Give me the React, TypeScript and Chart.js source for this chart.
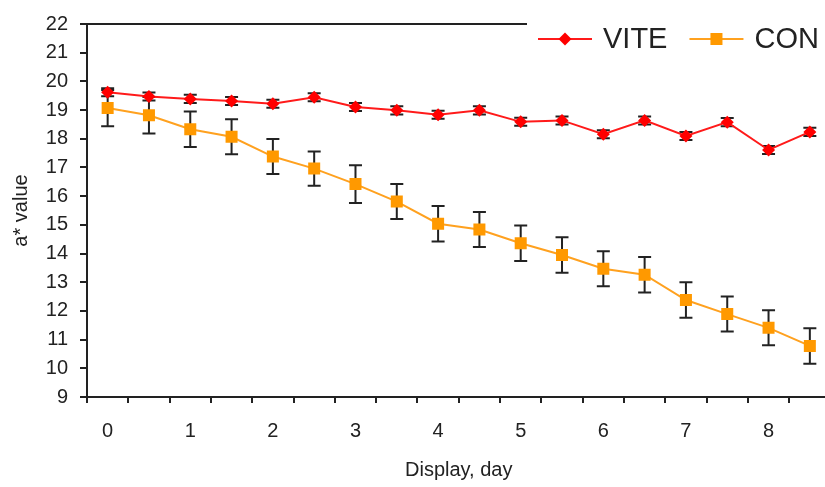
import React, { useEffect, useRef } from 'react';
import { Chart, registerables } from 'chart.js';

Chart.register(...registerables);

const days = [0, 0.5, 1, 1.5, 2, 2.5, 3, 3.5, 4, 4.5, 5, 5.5, 6, 6.5, 7, 7.5, 8, 8.5];
const viteValues = [19.62, 19.47, 19.39, 19.32, 19.22, 19.45, 19.11, 18.99, 18.84, 18.99, 18.59, 18.64, 18.16, 18.64, 18.1, 18.58, 17.61, 18.24];
const viteErrors = [0.14, 0.14, 0.14, 0.14, 0.14, 0.14, 0.14, 0.14, 0.14, 0.14, 0.14, 0.14, 0.14, 0.14, 0.14, 0.14, 0.14, 0.14];
const conValues = [19.07, 18.82, 18.33, 18.07, 17.38, 16.96, 16.42, 15.81, 15.04, 14.84, 14.36, 13.95, 13.47, 13.26, 12.38, 11.89, 11.41, 10.78];
const conErrors = [0.63, 0.64, 0.62, 0.61, 0.61, 0.6, 0.66, 0.61, 0.62, 0.61, 0.62, 0.62, 0.61, 0.62, 0.62, 0.61, 0.61, 0.62];
const seriesLabels = ['VITE', 'CON'];
const yMin = 9;
const yMax = 22;
const xTitle = 'Display, day';
const yTitle = 'a* value';

const FONT = "'Liberation Sans', Arial, sans-serif";
const INK = '#222222';

const errorBarPlugin = {
  id: 'errorBars',
  beforeDatasetsDraw(chart: any) {
    const ctx = chart.ctx;
    const yScale = chart.scales.y;
    ctx.save();
    ctx.strokeStyle = INK;
    ctx.lineWidth = 2;
    chart.data.datasets.forEach((ds: any, i: number) => {
      const meta = chart.getDatasetMeta(i);
      const errs: number[] = ds.errors || [];
      meta.data.forEach((pt: any, j: number) => {
        const v = ds.data[j];
        const e = errs[j] || 0;
        const yTop = yScale.getPixelForValue(v + e);
        const yBot = yScale.getPixelForValue(v - e);
        const x = pt.x;
        ctx.beginPath();
        ctx.moveTo(x, yTop);
        ctx.lineTo(x, yBot);
        ctx.moveTo(x - 6.5, yTop);
        ctx.lineTo(x + 6.5, yTop);
        ctx.moveTo(x - 6.5, yBot);
        ctx.lineTo(x + 6.5, yBot);
        ctx.stroke();
      });
    });
    ctx.restore();
  },
};

function drawMarker(ctx: CanvasRenderingContext2D, style: string, x: number, y: number, r: number, color: string) {
  ctx.fillStyle = color;
  ctx.beginPath();
  if (style === 'rectRot') {
    ctx.moveTo(x, y - r);
    ctx.lineTo(x + r, y);
    ctx.lineTo(x, y + r);
    ctx.lineTo(x - r, y);
    ctx.closePath();
  } else {
    const s = r * Math.SQRT1_2;
    ctx.rect(x - s, y - s, 2 * s, 2 * s);
  }
  ctx.fill();
}

const legendPlugin = {
  id: 'customLegend',
  afterDraw(chart: any) {
    const ctx = chart.ctx;
    const { left, right, top } = chart.chartArea;
    ctx.save();
    ctx.strokeStyle = INK;
    ctx.lineWidth = 2;
    ctx.beginPath();
    ctx.moveTo(left, top);
    ctx.lineTo(right, top);
    ctx.stroke();
    const boxX = 527;
    ctx.fillStyle = '#ffffff';
    ctx.fillRect(boxX, 0, chart.width - boxX, 62);
    ctx.font = `29px ${FONT}`;
    ctx.textBaseline = 'middle';
    ctx.textAlign = 'left';
    let x = 538;
    const y = 39;
    chart.data.datasets.forEach((ds: any) => {
      ctx.strokeStyle = ds.borderColor;
      ctx.lineWidth = 2;
      ctx.beginPath();
      ctx.moveTo(x, y);
      ctx.lineTo(x + 54, y);
      ctx.stroke();
      drawMarker(ctx, ds.pointStyle, x + 27, y, ds.pointRadius, ds.pointBackgroundColor);
      ctx.fillStyle = INK;
      ctx.fillText(ds.label, x + 65, y + 1);
      const w = ctx.measureText(ds.label).width;
      x = x + 65 + w + 22;
    });
    ctx.restore();
  },
};

export default function App() {
  const ref = useRef<HTMLCanvasElement | null>(null);

  useEffect(() => {
    if (!ref.current) return;
    const chart = new Chart(ref.current, {
      type: 'line',
      data: {
        labels: days.map((d) => String(d)),
        datasets: [
          {
            label: seriesLabels[0],
            data: viteValues,
            errors: viteErrors,
            borderColor: '#ff1a1a',
            borderWidth: 2,
            pointStyle: 'rectRot',
            pointRadius: 6.5,
            pointBackgroundColor: '#ff0000',
            pointBorderWidth: 0,
            pointBorderColor: '#ff0000',
            tension: 0,
          } as any,
          {
            label: seriesLabels[1],
            data: conValues,
            errors: conErrors,
            borderColor: '#ffa11f',
            borderWidth: 2,
            pointStyle: 'rect',
            pointRadius: 8.5,
            pointBackgroundColor: '#ff9900',
            pointBorderWidth: 0,
            pointBorderColor: '#ff9900',
            tension: 0,
          } as any,
        ],
      },
      options: {
        responsive: false,
        animation: false,
        layout: { padding: { top: 18, right: 2, left: 0, bottom: 0 } },
        plugins: {
          legend: { display: false },
          tooltip: { enabled: false },
        },
        scales: {
          x: {
            type: 'category',
            offset: true,
            grid: {
              offset: true,
              drawOnChartArea: false,
              drawTicks: true,
              tickLength: 6,
              color: INK,
              lineWidth: 2,
            },
            border: { display: true, color: INK, width: 2 },
            ticks: {
              autoSkip: false,
              maxRotation: 0,
              minRotation: 0,
              padding: 16,
              color: INK,
              font: { family: FONT, size: 20 },
              callback: (_v: any, i: number) => (Number.isInteger(days[i]) ? String(days[i]) : ''),
            },
            title: {
              display: true,
              text: xTitle,
              color: INK,
              font: { family: FONT, size: 20 },
              padding: { top: 0, bottom: 5 },
            },
            afterFit: (scale: any) => {
              scale.height = 90;
            },
          },
          y: {
            min: yMin,
            max: yMax,
            ticks: {
              stepSize: 1,
              padding: 12,
              color: INK,
              font: { family: FONT, size: 20 },
            },
            grid: {
              drawOnChartArea: false,
              drawTicks: true,
              tickLength: 7,
              color: INK,
              lineWidth: 2,
            },
            border: { display: true, color: INK, width: 2 },
            title: {
              display: true,
              text: yTitle,
              color: INK,
              font: { family: FONT, size: 20 },
              padding: { top: 9, bottom: 0 },
            },
            afterFit: (scale: any) => {
              scale.width = 87;
            },
          },
        },
      } as any,
      plugins: [errorBarPlugin, legendPlugin],
    });
    return () => chart.destroy();
  }, []);

  return (
    <div style={{ position: 'fixed', left: 0, top: 0, width: 825, height: 487, overflow: 'hidden', background: '#ffffff' }}>
      <canvas ref={ref} width={839} height={487} style={{ display: 'block' }} />
    </div>
  );
}
